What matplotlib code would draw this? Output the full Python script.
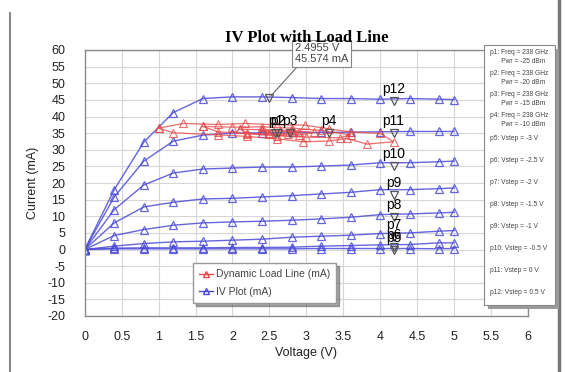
import matplotlib
matplotlib.use("Agg")
import matplotlib.pyplot as plt
from matplotlib.patches import Rectangle
from matplotlib.lines import Line2D

plt.rcParams['font.family'] = ['Liberation Sans', 'DejaVu Sans']
plt.rcParams['axes.unicode_minus'] = False

# Pontos de tensao das curvas IV (V)
v_pts = [0, 0.4, 0.8, 1.2, 1.6, 2.0, 2.4, 2.8, 3.2, 3.6, 4.0, 4.4, 4.8, 5.0]

# Corrente (mA) para cada Vstep
i_p5 = [0, 0.2, 0.2, 0.2, 0.2, 0.2, 0.2, 0.2, 0.3, 0.3, 0.3, 0.3, 0.2, 0.3]
i_p6 = [0, 0.4, 0.5, 0.5, 0.5, 0.6, 0.6, 0.7, 1.0, 1.2, 1.4, 1.5, 2.0, 2.0]
i_p7 = [0, 1.0, 1.8, 2.3, 2.5, 2.8, 3.1, 3.7, 4.0, 4.3, 4.8, 5.0, 5.5, 5.7]
i_p8 = [0, 4.2, 6.0, 7.3, 8.0, 8.3, 8.5, 8.8, 9.2, 9.7, 10.5, 10.7, 11.0, 11.2]
i_p9 = [0, 8.0, 12.8, 14.2, 15.2, 15.4, 15.8, 16.2, 16.7, 17.2, 18.0, 18.0, 18.3, 18.5]
i_p10 = [0, 12.0, 19.4, 23.0, 24.2, 24.5, 24.8, 24.8, 25.1, 25.4, 26.1, 26.1, 26.4, 26.6]
i_p11 = [0, 15.8, 26.6, 32.6, 34.4, 35.0, 35.1, 35.2, 35.2, 35.3, 35.4, 35.5, 35.5, 35.5]
i_p12 = [0, 18.0, 32.3, 41.2, 45.4, 45.9, 45.9, 45.7, 45.4, 45.4, 45.2, 45.4, 45.2, 45.1]
iv_curves = [i_p5, i_p6, i_p7, i_p8, i_p9, i_p10, i_p11, i_p12]

# Marcadores p5..p12
mark_names = ['p5', 'p6', 'p7', 'p8', 'p9', 'p10', 'p11', 'p12']
mark_v = [4.18, 4.18, 4.18, 4.18, 4.18, 4.18, 4.18, 4.18]
mark_i = [0.0, 0.8, 3.9, 9.9, 16.4, 25.1, 35.1, 44.8]

# Dynamic load line (um laco por potencia)
p1_v = [2.4, 2.65, 2.9, 2.75, 2.5, 2.4]
p1_i = [35.8, 35.6, 35.3, 34.8, 35.0, 35.8]
p2_v = [2.1, 2.4, 2.8, 3.1, 2.9, 2.5, 2.2, 2.1]
p2_i = [36.2, 36.0, 35.8, 35.2, 34.4, 34.6, 35.0, 36.2]
p3_v = [1.6, 2.0, 2.4, 2.8, 3.2, 3.6, 3.45, 3.0, 2.6, 2.2, 1.8, 1.6]
p3_i = [37.0, 36.8, 36.9, 36.5, 35.8, 34.5, 33.6, 33.8, 34.2, 34.8, 35.4, 37.0]
p4_v = [1.0, 1.33, 1.8, 2.17, 2.6, 2.98, 3.3, 3.59, 4.0, 4.18,
        3.82, 3.55, 3.3, 2.96, 2.6, 2.2, 1.8, 1.2, 1.0]
p4_i = [36.5, 37.9, 37.6, 37.9, 37.5, 37.4, 36.3, 35.4, 34.9, 32.4,
        31.7, 33.4, 32.6, 32.4, 33.3, 34.0, 34.5, 35.1, 36.5]
load_loops = [(p1_v, p1_i), (p2_v, p2_i), (p3_v, p3_i), (p4_v, p4_i)]

load_names = ['p1', 'p2', 'p3', 'p4']
load_mark_v = [2.58, 2.62, 2.78, 3.3]
load_mark_i = [35.0, 35.0, 35.0, 35.0]

# Valor lido no cursor
cursor_v = 2.4955
cursor_i = 45.574

panel_lines = [
    "p1: Freq = 238 GHz\n      Pwr = -25 dBm",
    "p2: Freq = 238 GHz\n      Pwr = -20 dBm",
    "p3: Freq = 238 GHz\n      Pwr = -15 dBm",
    "p4: Freq = 238 GHz\n      Pwr = -10 dBm",
    "p5: Vstep = -3 V",
    "p6: Vstep = -2.5 V",
    "p7: Vstep = -2 V",
    "p8: Vstep = -1.5 V",
    "p9: Vstep = -1 V",
    "p10: Vstep = -0.5 V",
    "p11: Vstep = 0 V",
    "p12: Vstep = 0.5 V",
]
panel_y = [57, 78, 99, 120, 138, 160, 183, 205, 227, 249, 271, 293]

W, H = 565, 372
BLUE = '#4a4ad8'
RED = '#e84848'

fig = plt.figure(figsize=(W / 100, H / 100), dpi=100)
ax = fig.add_axes([84.7 / W, 1 - 316 / H, (528 - 84.7) / W, (316 - 50) / H])

for i_vals in iv_curves:
    ax.plot(v_pts, i_vals, color=BLUE, lw=1.0, marker='^', ms=5.5,
            mfc='none', mec=BLUE, mew=0.9, alpha=0.85)

for lv, li in load_loops:
    ax.plot(lv, li, color=RED, lw=0.9, marker='^', ms=5.5,
            mfc='none', mec=RED, mew=0.8, alpha=0.8)

ax.plot(mark_v, mark_i, ls='none', marker='v', ms=5.5, mfc='none', mec='#555555', mew=0.9)
ax.plot(load_mark_v, load_mark_i, ls='none', marker='v', ms=5.5, mfc='none', mec='#555555', mew=0.9)
ax.plot([cursor_v], [cursor_i], ls='none', marker='v', ms=5.5, mfc='none', mec='#555555', mew=0.9)

for name, mv, mi in zip(mark_names, mark_v, mark_i):
    ax.annotate(name, (mv, mi), xytext=(0, 3.5), textcoords='offset points',
                ha='center', va='bottom', fontsize=10, color='black')
for name, mv, mi in zip(load_names, load_mark_v, load_mark_i):
    ax.annotate(name, (mv, mi), xytext=(0, 3.5), textcoords='offset points',
                ha='center', va='bottom', fontsize=10, color='black')

ax.annotate(f"{cursor_v} V\n{cursor_i} mA", (cursor_v, cursor_i), xytext=(2.84, 59.0),
            textcoords='data', ha='left', va='center', fontsize=8, color='#444444',
            linespacing=1.15, annotation_clip=False,
            bbox=dict(boxstyle='square,pad=0.25', fc='white', ec='#888888', lw=0.8),
            arrowprops=dict(arrowstyle='-', color='#666666', lw=0.8, relpos=(0.1, 0.0),
                            shrinkA=0, shrinkB=2))

ax.set_xlim(0, 6)
ax.set_ylim(-20, 60)
ax.set_xticks([x * 0.5 for x in range(13)])
ax.set_xticklabels(['0', '0.5', '1', '1.5', '2', '2.5', '3', '3.5', '4', '4.5', '5', '5.5', '6'])
ax.set_yticks(list(range(-20, 61, 5)))
ax.tick_params(length=0, labelsize=9, colors='#222222')
ax.tick_params(axis='x', pad=11)
ax.tick_params(axis='y', pad=14)
ax.grid(True, color='#d6d6d6', lw=0.8)
ax.set_axisbelow(True)
for s in ax.spines.values():
    s.set_color('#8a8a8a')
    s.set_linewidth(1.0)

ax.set_xlabel('Voltage (V)', fontsize=9, color='#222222', labelpad=3)
ax.set_ylabel('Current (mA)', fontsize=9, color='#222222', labelpad=6)
ax.set_title('IV Plot with Load Line', fontsize=12, fontweight='bold',
             family=['Liberation Serif', 'DejaVu Serif'], pad=6)

handles = [
    Line2D([], [], color=RED, lw=1, marker='^', ms=5, mfc='none', mec=RED),
    Line2D([], [], color=BLUE, lw=1, marker='^', ms=5, mfc='none', mec=BLUE),
]
leg = ax.legend(handles, ['Dynamic Load Line (mA)', 'IV Plot (mA)'],
                loc='lower left', bbox_to_anchor=(0.232, 0.03), fontsize=7.5,
                fancybox=False, shadow=True, framealpha=1, edgecolor='#999999',
                handlelength=1.3, handletextpad=0.3, borderpad=0.6, labelspacing=0.7)
for t in leg.get_texts():
    t.set_color('#444444')

# Painel de marcadores a direita
def fx(px):
    return px / W

def fy(py):
    return 1 - py / H

fig.patches.append(Rectangle((fx(488), fy(309)), fx(71), (309 - 49) / H,
                             transform=fig.transFigure, fc='#9a9a9a', ec='none', zorder=5))
fig.patches.append(Rectangle((fx(484), fy(305)), fx(71), (305 - 45) / H,
                             transform=fig.transFigure, fc='white', ec='#888888', lw=0.8, zorder=6))
for txt, py in zip(panel_lines, panel_y):
    fig.text(fx(490), fy(py), txt, fontsize=4.8, color='#444444', va='center',
             ha='left', linespacing=1.3, zorder=7)

# Bordas da janela
fig.add_artist(Line2D([fx(10), fx(10)], [fy(13), 0], color='#8a8a8a', lw=1.5))
fig.add_artist(Line2D([fx(559), fx(559)], [1, 0], color='#777777', lw=2.5))

fig.savefig('out.png', dpi=100)
